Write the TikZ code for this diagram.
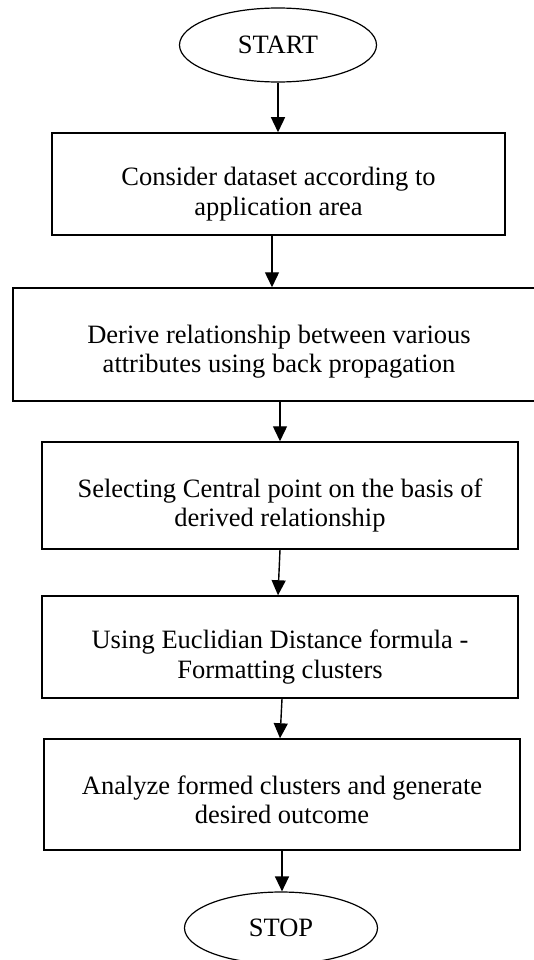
\documentclass[tikz,border=0pt]{standalone}
\usepackage{fontspec}
\setmainfont{Liberation Serif}
\usetikzlibrary{shapes.geometric,arrows.meta}

\begin{document}
\begin{tikzpicture}[
	x=1pt, y=1pt,
	>={Triangle[width=14pt,length=15pt]},
	termnode/.style ={draw, ellipse, line width=1.2pt, inner sep=0pt},
	procbox/.style ={draw, rectangle, line width=1.5pt, align=center, inner sep=0pt,
		text height=62pt, text depth=0pt},
	flowarrow/.style ={->, line width=1.4pt},
	font=\fontsize{26.5}{29.5}\selectfont]

	\useasboundingbox (0,0) rectangle (533,-960);

	\def\boxwidth{476pt}

	\coordinate (S) at (278,-45);
	\coordinate (C) at (278.5,-184);
	\coordinate (D) at (279,-344.5);
	\coordinate (P) at (280,-495.5);
	\coordinate (U) at (280,-647);
	\coordinate (A) at (282,-794.5);
	\coordinate (T) at (281,-928);

	\node [termnode, minimum width=197pt, minimum height=74pt] (start) at (S) {START};
	\node [procbox, minimum width=453pt, minimum height=102pt] (consider) at (C)
		{Consider dataset according to\\application area};
	\node [procbox, minimum width=532pt, minimum height=113pt, text height=56pt] (derive) at (D)
		{Derive relationship between various\\attributes using back propagation};
	\node [procbox, minimum width=\boxwidth, minimum height=107pt] (select) at (P)
		{Selecting Central point on the basis of\\derived relationship};
	\node [procbox, minimum width=\boxwidth, minimum height=102pt] (euclid) at (U)
		{Using Euclidian Distance formula -\\Formatting clusters};
	\node [procbox, minimum width=\boxwidth, minimum height=111pt, text height=58pt] (analyze) at (A)
		{Analyze formed clusters and generate\\desired outcome};
	\node [termnode, minimum width=193pt, minimum height=72pt] (stop) at (T) {STOP};

	\draw [flowarrow] (start.south) -- (start.south |- consider.north);
	\draw [flowarrow] ([xshift=-6.5pt]consider.south) -- ([xshift=-7pt]derive.north);
	\draw [flowarrow] ([xshift=1pt]derive.south) -- (select.north);
	\draw [flowarrow] (select.south) -- ([xshift=-2pt]euclid.north);
	\draw [flowarrow] ([xshift=2pt]euclid.south) -- ([xshift=-2pt]analyze.north);
	\draw [flowarrow] (analyze.south) -- (analyze.south |- stop.north);

\end{tikzpicture}
\end{document}
